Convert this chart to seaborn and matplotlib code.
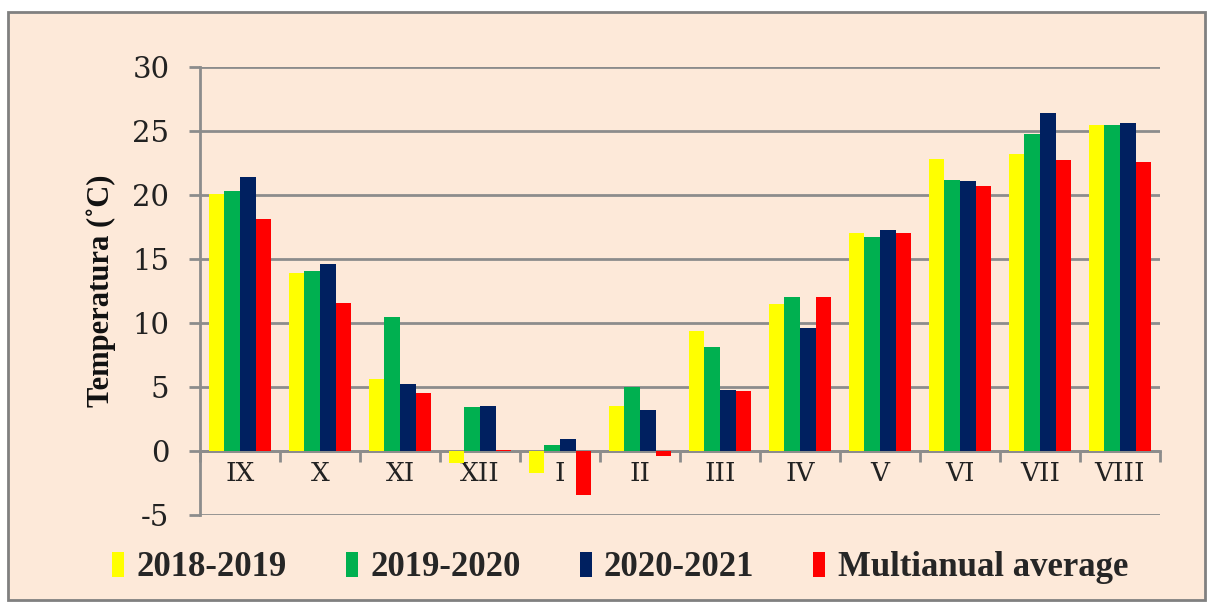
import matplotlib
matplotlib.use("Agg")
import matplotlib.pyplot as plt
import seaborn as sns
import pandas as pd
from matplotlib.patches import Rectangle, Patch

months = ["IX", "X", "XI", "XII", "I", "II", "III", "IV", "V", "VI", "VII", "VIII"]
s2018_2019 = [20.1, 13.9, 5.6, -0.9, -1.7, 3.5, 9.4, 11.5, 17.0, 22.8, 23.2, 25.5]
s2019_2020 = [20.3, 14.1, 10.5, 3.4, 0.5, 5.0, 8.1, 12.0, 16.7, 21.2, 24.8, 25.5]
s2020_2021 = [21.4, 14.6, 5.2, 3.5, 0.9, 3.2, 4.8, 9.6, 17.3, 21.1, 26.4, 25.6]
multianual = [18.1, 11.6, 4.5, 0.1, -3.4, -0.4, 4.7, 12.0, 17.0, 20.7, 22.7, 22.6]
series_names = ["2018-2019", "2019-2020", "2020-2021", "Multianual average"]
colors = ["#FFFF00", "#00B050", "#002060", "#FF0000"]
yticks = [-5, 0, 5, 10, 15, 20, 25, 30]

rows = []
for name, vals in zip(series_names, [s2018_2019, s2019_2020, s2020_2021, multianual]):
    for m, v in zip(months, vals):
        rows.append({"Month": m, "Series": name, "Temp": v})
df = pd.DataFrame(rows)

sns.set_theme(style="white")
bg = "#FDE9D9"
grid_c = "#8C8C8C"

fig = plt.figure(figsize=(12.16, 6.10), dpi=100)
fig.patch.set_facecolor("white")
fig.patches.append(Rectangle((8 / 1216, 10 / 610), 1197 / 1216, 588 / 610,
                             transform=fig.transFigure, facecolor=bg,
                             edgecolor="#808080", linewidth=2, zorder=-10))

ax = fig.add_axes([200 / 1216, 1 - 515 / 610, 960 / 1216, (515 - 67) / 610])
ax.set_facecolor("none")

sns.barplot(data=df, x="Month", y="Temp", hue="Series", palette=colors,
            order=months, hue_order=series_names, width=0.78, ax=ax,
            legend=False, saturation=1, edgecolor="none", zorder=3)

# gridlines
for t in yticks[1:]:
    ax.axhline(t, color=grid_c, lw=2, zorder=1)
ax.axhline(-5, color=grid_c, lw=2, zorder=1)

ax.set_ylim(-5, 30)
ax.set_xlim(-0.5, 11.5)
ax.set_yticks(yticks)
ax.set_yticklabels([str(t) for t in yticks], fontfamily="DejaVu Serif", fontsize=21, color="#222222")
ax.tick_params(axis="y", length=8, width=2, color=grid_c, pad=14, left=True)

for s in ["top", "right"]:
    ax.spines[s].set_visible(False)
ax.spines["left"].set_color(grid_c)
ax.spines["left"].set_linewidth(2)
ax.spines["bottom"].set_position(("data", 0))
ax.spines["bottom"].set_color(grid_c)
ax.spines["bottom"].set_linewidth(2)

ax.set_xticks(range(len(months)))
ax.set_xticklabels(months, fontfamily="DejaVu Serif", fontsize=19, color="#222222")
ax.tick_params(axis="x", length=0, pad=7, bottom=True)
ax.set_xticks([i + 0.5 for i in range(-1, len(months))], minor=True)
ax.tick_params(axis="x", which="minor", length=8, width=2, color=grid_c, bottom=True)

ax.set_xlabel("")
ax.set_ylabel("Temperatura (˚C)", fontfamily="Liberation Serif", fontweight="bold",
              fontsize=22, color="#111111", labelpad=12)

handles = [Patch(facecolor=c, edgecolor="none") for c in colors]
fig.legend(handles, series_names, loc="center", bbox_to_anchor=(0.51, 1 - 568 / 610),
           ncol=4, frameon=False, handlelength=0.35, handleheight=0.75,
           handletextpad=0.35, columnspacing=1.7,
           prop={"family": "Liberation Serif", "weight": "bold", "size": 25})

fig.savefig("out.png", dpi=100, facecolor=fig.get_facecolor())
